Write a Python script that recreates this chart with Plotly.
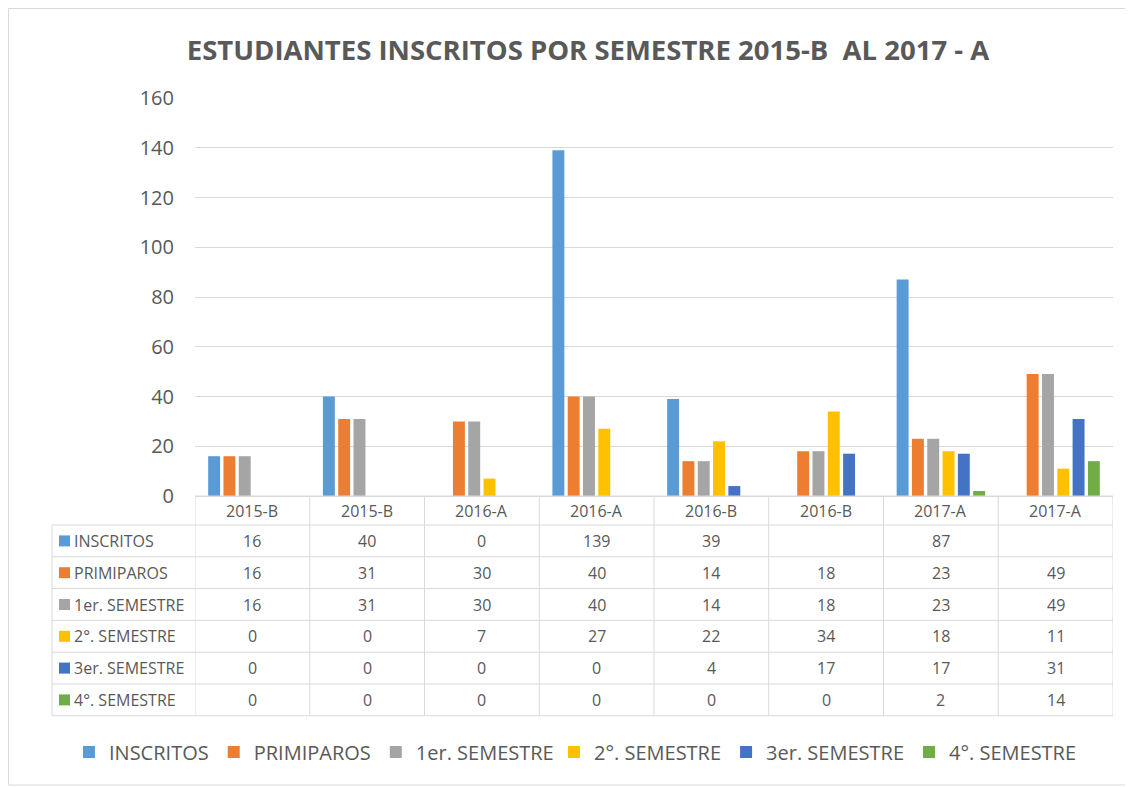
import plotly.graph_objects as go

# ---- data ----
categories = ["2015-B", "2015-B", "2016-A", "2016-A", "2016-B", "2016-B", "2017-A", "2017-A"]
series_names = ["INSCRITOS", "PRIMIPAROS", "1er. SEMESTRE", "2°. SEMESTRE", "3er. SEMESTRE", "4°. SEMESTRE"]
inscritos = [16, 40, 0, 139, 39, None, 87, None]
primiparos = [16, 31, 30, 40, 14, 18, 23, 49]
primer_semestre = [16, 31, 30, 40, 14, 18, 23, 49]
segundo_semestre = [0, 0, 7, 27, 22, 34, 18, 11]
tercer_semestre = [0, 0, 0, 0, 4, 17, 17, 31]
cuarto_semestre = [0, 0, 0, 0, 0, 0, 2, 14]
y_ticks = [0, 20, 40, 60, 80, 100, 120, 140, 160]

series_values = [inscritos, primiparos, primer_semestre, segundo_semestre, tercer_semestre, cuarto_semestre]
colors = ["#5B9BD5", "#ED7D31", "#A5A5A5", "#FFC000", "#4472C4", "#70AD47"]

# ---- layout geometry (page pixels; the page body has an 8px margin) ----
OFF = 8
W, H = 1133 - OFF, 787 - OFF
L, R, T, B = 195 - OFF, 20, 98 - OFF, 291
PW, PH = W - L - R, H - T - B
TEXT = "#595959"
GRID = "#D9D9D9"
FONT = "Open Sans"


def px_x(px):
    return (px - OFF - L) / PW


def px_y(py):
    return (H - B - (py - OFF)) / PH


x_idx = list(range(len(categories)))

fig = go.Figure()
for k, (name, vals, col) in enumerate(zip(series_names, series_values, colors)):
    fig.add_trace(go.Bar(
        x=x_idx, y=vals, name=name, marker_color=col, marker_line_width=0,
        legend="legend" if k < 3 else "legend2",
    ))

shapes = []
annotations = []

# ---- data table ----
table_left = 52
header_top = 496
header_h = 29
row_h = 31.8
n_rows = len(series_names)
table_bottom = header_top + header_h + n_rows * row_h
line = dict(color=GRID, width=1)
cell_font = dict(family=FONT, size=16, color=TEXT)

shapes.append(dict(type="line", xref="paper", yref="paper",
                   x0=0, x1=1, y0=px_y(header_top), y1=px_y(header_top), line=line))
for r in range(n_rows + 1):
    yy = header_top + header_h + r * row_h
    shapes.append(dict(type="line", xref="paper", yref="paper",
                       x0=px_x(table_left), x1=1, y0=px_y(yy), y1=px_y(yy), line=line))
shapes.append(dict(type="line", xref="paper", yref="paper",
                   x0=px_x(table_left), x1=px_x(table_left),
                   y0=px_y(header_top + header_h), y1=px_y(table_bottom), line=line))
for i in range(len(categories) + 1):
    xb = i - 0.5
    shapes.append(dict(type="line", xref="x", yref="paper",
                       x0=xb, x1=xb, y0=px_y(header_top), y1=px_y(table_bottom), line=line))

for i, c in enumerate(categories):
    annotations.append(dict(x=i, y=px_y(header_top + header_h / 2), xref="x", yref="paper",
                            text=c, showarrow=False, xanchor="center", yanchor="middle",
                            font=cell_font))
for r, (name, vals, col) in enumerate(zip(series_names, series_values, colors)):
    cy = header_top + header_h + r * row_h + row_h / 2
    shapes.append(dict(type="rect", xref="paper", yref="paper",
                       x0=px_x(59), x1=px_x(70), y0=px_y(cy - 5.5), y1=px_y(cy + 5.5),
                       fillcolor=col, line=dict(width=0)))
    annotations.append(dict(x=px_x(72), y=px_y(cy), xref="paper", yref="paper",
                            text=name, showarrow=False, xanchor="left", yanchor="middle",
                            font=cell_font))
    for i, v in enumerate(vals):
        annotations.append(dict(x=i, y=px_y(cy), xref="x", yref="paper",
                                text="" if v is None else str(v), showarrow=False,
                                xanchor="center", yanchor="middle", font=cell_font))

# chart border
shapes.append(dict(type="rect", xref="paper", yref="paper",
                   x0=px_x(OFF + 0.5), x1=px_x(1129), y0=px_y(OFF + 0.5), y1=px_y(785),
                   line=dict(color=GRID, width=1), fillcolor="rgba(0,0,0,0)"))

legend_common = dict(orientation="h", xref="container", yref="container",
                     xanchor="left", y=1 - (752 - OFF) / H, yanchor="middle",
                     font=dict(family=FONT, size=20, color=TEXT),
                     itemwidth=30, traceorder="normal", bgcolor="rgba(0,0,0,0)")

fig.update_layout(
    width=W, height=H,
    margin=dict(l=L, r=R, t=T, b=B, pad=0),
    paper_bgcolor="white", plot_bgcolor="white",
    font=dict(family=FONT, color=TEXT),
    title=dict(text="<b>ESTUDIANTES INSCRITOS POR SEMESTRE 2015-B  AL 2017 - A</b>",
               x=(588 - OFF) / W, xref="container", xanchor="center",
               y=1 - (50 - OFF) / H, yref="container", yanchor="middle",
               font=dict(family=FONT, size=27.5, color=TEXT)),
    barmode="group", bargap=0.2, bargroupgap=0.22,
    showlegend=True,
    legend=dict(legend_common, x=(83 - 14 - OFF) / W),
    legend2=dict(legend_common, x=(568 - 14 - OFF) / W),
    xaxis=dict(range=[-0.5, len(categories) - 0.5], showticklabels=False, showgrid=False,
               zeroline=False, showline=True, linecolor=GRID, linewidth=1, ticks="",
               fixedrange=True),
    yaxis=dict(range=[0, 160], tickvals=y_ticks, showgrid=True, gridcolor=GRID, gridwidth=1,
               zeroline=False, showline=False, ticks="", ticklabelstandoff=20,
               tickfont=dict(family=FONT, size=20, color=TEXT), fixedrange=True),
    shapes=shapes,
    annotations=annotations,
)

fig.write_html("out.html")
